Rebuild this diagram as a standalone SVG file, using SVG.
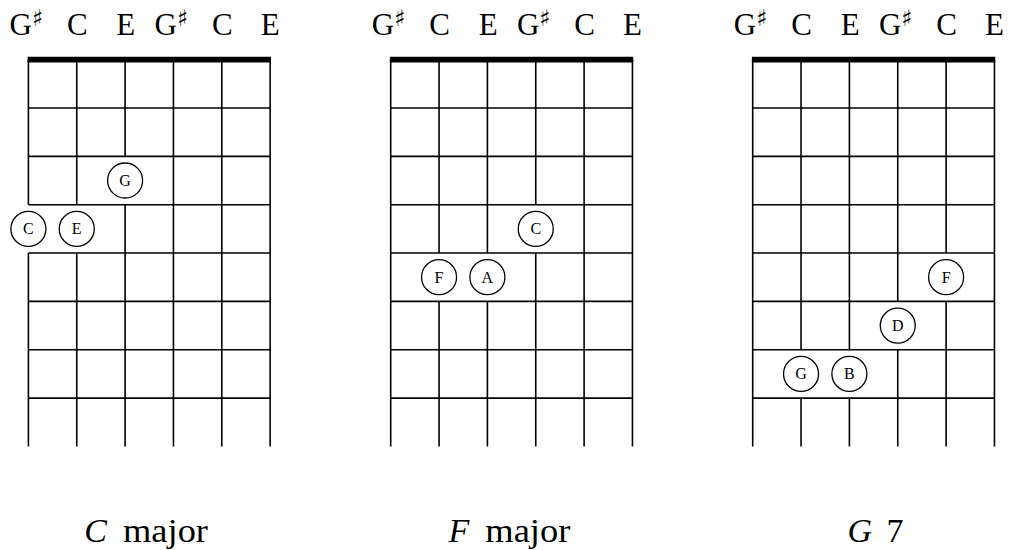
<svg xmlns="http://www.w3.org/2000/svg" width="1024" height="550" viewBox="0 0 1024 550">
<style>
.grid line, .grid path { stroke:#000; stroke-width:1.6; fill:none; stroke-linecap:butt; }
.grid line.nut { stroke:#000; stroke-width:5.6; }
.note circle { fill:#fff; stroke:#000; stroke-width:1.3; }
.note text { font-size:16px; text-anchor:middle; fill:#000; }
.tn { font-size:31px; text-anchor:middle; fill:#000; }
.gs { font-size:31px; fill:#000; }
.sh { font-size:23px; font-family:"DejaVu Serif","DejaVu Sans",serif; }
.lab { font-size:34px; fill:#000; }
.it { font-style:italic; }
</style>
<rect width="1024" height="550" fill="#fff"/>

<!-- tuning labels -->
<g id="tuning" font-family="Liberation Serif, Times New Roman, serif">
  <g id="tuning1">
    <text class="gs" x="9.5" y="35">G<tspan class="sh" dy="-9">♯</tspan></text>
    <text class="tn" x="77.3" y="35">C</text>
    <text class="tn" x="125.8" y="35">E</text>
    <text class="gs" x="154.6" y="35">G<tspan class="sh" dy="-9">♯</tspan></text>
    <text class="tn" x="222.4" y="35">C</text>
    <text class="tn" x="270.2" y="35">E</text>
  </g>
  <g id="tuning2" transform="translate(362.3,0)">
    <text class="gs" x="9.5" y="35">G<tspan class="sh" dy="-9">♯</tspan></text>
    <text class="tn" x="77.3" y="35">C</text>
    <text class="tn" x="125.8" y="35">E</text>
    <text class="gs" x="154.6" y="35">G<tspan class="sh" dy="-9">♯</tspan></text>
    <text class="tn" x="222.4" y="35">C</text>
    <text class="tn" x="270.2" y="35">E</text>
  </g>
  <g id="tuning3" transform="translate(724.3,0)">
    <text class="gs" x="9.5" y="35">G<tspan class="sh" dy="-9">♯</tspan></text>
    <text class="tn" x="77.3" y="35">C</text>
    <text class="tn" x="125.8" y="35">E</text>
    <text class="gs" x="154.6" y="35">G<tspan class="sh" dy="-9">♯</tspan></text>
    <text class="tn" x="222.4" y="35">C</text>
    <text class="tn" x="270.2" y="35">E</text>
  </g>
</g>

<!-- connectors: fretboard grids -->
<g id="connectors">
  <g id="grid1" class="grid">
    <line class="nut" x1="27.6" y1="59.65" x2="270.95" y2="59.65"/>
    <line x1="28.4" y1="108" x2="270.15" y2="108"/>
    <line x1="28.4" y1="156.35" x2="270.15" y2="156.35"/>
    <line x1="28.4" y1="204.7" x2="270.15" y2="204.7"/>
    <line x1="28.4" y1="253.05" x2="270.15" y2="253.05"/>
    <line x1="28.4" y1="301.4" x2="270.15" y2="301.4"/>
    <line x1="28.4" y1="349.75" x2="270.15" y2="349.75"/>
    <line x1="28.4" y1="398.1" x2="270.15" y2="398.1"/>
    <path d="M28.4 59.65V204.7M28.4 253.05V446.45"/>
    <path d="M76.75 59.65V204.7M76.75 253.05V446.45"/>
    <path d="M125.1 59.65V156.35M125.1 204.7V446.45"/>
    <path d="M173.45 59.65V446.45"/>
    <path d="M221.8 59.65V446.45"/>
    <path d="M270.15 59.65V446.45"/>
  </g>
  <g id="grid2" class="grid">
    <line class="nut" x1="389.9" y1="59.65" x2="633.25" y2="59.65"/>
    <line x1="390.7" y1="108" x2="632.45" y2="108"/>
    <line x1="390.7" y1="156.35" x2="632.45" y2="156.35"/>
    <line x1="390.7" y1="204.7" x2="632.45" y2="204.7"/>
    <line x1="390.7" y1="253.05" x2="632.45" y2="253.05"/>
    <line x1="390.7" y1="301.4" x2="632.45" y2="301.4"/>
    <line x1="390.7" y1="349.75" x2="632.45" y2="349.75"/>
    <line x1="390.7" y1="398.1" x2="632.45" y2="398.1"/>
    <path d="M390.7 59.65V446.45"/>
    <path d="M439.05 59.65V253.05M439.05 301.4V446.45"/>
    <path d="M487.4 59.65V253.05M487.4 301.4V446.45"/>
    <path d="M535.75 59.65V204.7M535.75 253.05V446.45"/>
    <path d="M584.1 59.65V446.45"/>
    <path d="M632.45 59.65V446.45"/>
  </g>
  <g id="grid3" class="grid">
    <line class="nut" x1="751.9" y1="59.65" x2="995.25" y2="59.65"/>
    <line x1="752.7" y1="108" x2="994.45" y2="108"/>
    <line x1="752.7" y1="156.35" x2="994.45" y2="156.35"/>
    <line x1="752.7" y1="204.7" x2="994.45" y2="204.7"/>
    <line x1="752.7" y1="253.05" x2="994.45" y2="253.05"/>
    <line x1="752.7" y1="301.4" x2="994.45" y2="301.4"/>
    <line x1="752.7" y1="349.75" x2="994.45" y2="349.75"/>
    <line x1="752.7" y1="398.1" x2="994.45" y2="398.1"/>
    <path d="M752.7 59.65V446.45"/>
    <path d="M801.05 59.65V349.75M801.05 398.1V446.45"/>
    <path d="M849.4 59.65V349.75M849.4 398.1V446.45"/>
    <path d="M897.75 59.65V301.4M897.75 349.75V446.45"/>
    <path d="M946.1 59.65V253.05M946.1 301.4V446.45"/>
    <path d="M994.45 59.65V446.45"/>
  </g>
</g>

<!-- notes -->
<g id="notes" font-family="Liberation Serif, Times New Roman, serif">
<g id="c-major-G" class="note"><circle cx="125.1" cy="180.5" r="17.5"/><text x="125.1" y="185.9">G</text></g>
<g id="c-major-C" class="note"><circle cx="28.4" cy="228.9" r="17.5"/><text x="28.4" y="234.3">C</text></g>
<g id="c-major-E" class="note"><circle cx="76.75" cy="228.9" r="17.5"/><text x="76.75" y="234.3">E</text></g>

<g id="f-major-C" class="note"><circle cx="535.75" cy="228.9" r="17.5"/><text x="535.75" y="234.3">C</text></g>
<g id="f-major-F" class="note"><circle cx="439.05" cy="277.2" r="17.5"/><text x="439.05" y="282.6">F</text></g>
<g id="f-major-A" class="note"><circle cx="487.4" cy="277.2" r="17.5"/><text x="487.4" y="282.6">A</text></g>

<g id="g7-F" class="note"><circle cx="946.1" cy="277.2" r="17.5"/><text x="946.1" y="282.6">F</text></g>
<g id="g7-D" class="note"><circle cx="897.75" cy="325.6" r="17.5"/><text x="897.75" y="331">D</text></g>
<g id="g7-G" class="note"><circle cx="801.05" cy="373.9" r="17.5"/><text x="801.05" y="379.3">G</text></g>
<g id="g7-B" class="note"><circle cx="849.4" cy="373.9" r="17.5"/><text x="849.4" y="379.3">B</text></g>
</g>

<!-- chord names -->
<g id="names" font-family="Liberation Serif, Times New Roman, serif">
<g id="name1"><text class="lab it" x="107" y="542.3" text-anchor="end">C</text><text class="lab" x="123" y="542.3" textLength="85" lengthAdjust="spacingAndGlyphs">major</text></g>
<g id="name2"><text class="lab it" x="469.3" y="542.3" text-anchor="end">F</text><text class="lab" x="485.3" y="542.3" textLength="85" lengthAdjust="spacingAndGlyphs">major</text></g>
<g id="name3"><text class="lab it" x="872" y="542.3" text-anchor="end">G</text><text class="lab" x="886.5" y="542.3">7</text></g>
</g>
</svg>
